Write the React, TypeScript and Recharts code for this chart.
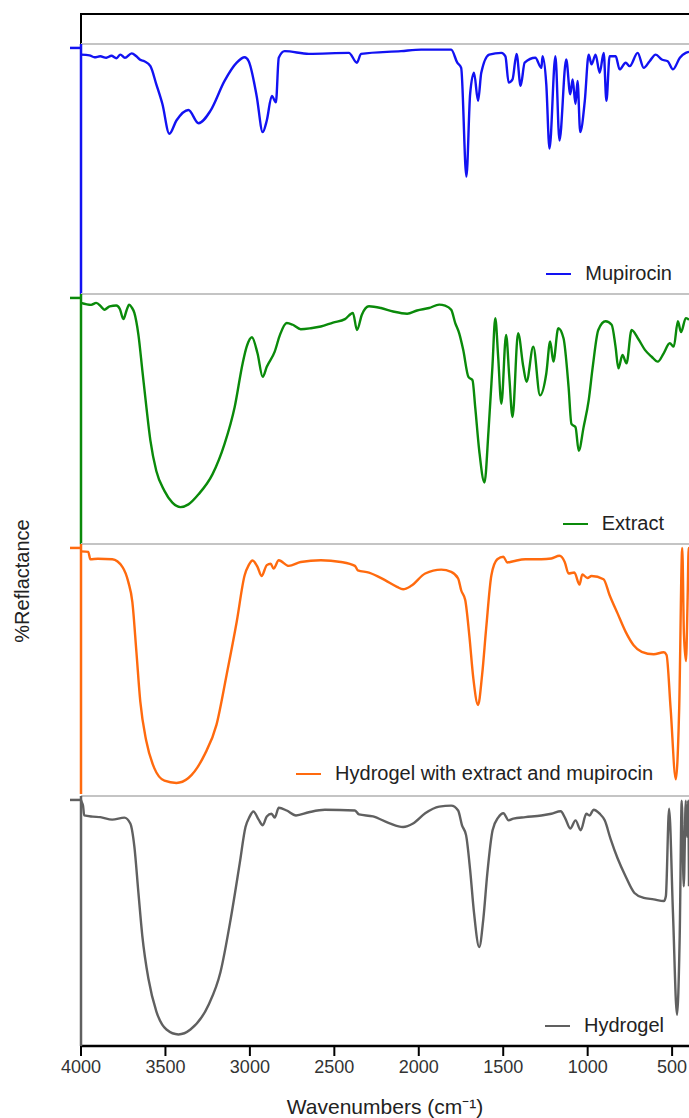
import { LineChart, Line, XAxis, YAxis, ReferenceLine, Legend } from "recharts";

// wavenumbers (cm-1) and %R, each panel scaled 0..100
const mupirocinWn = [
  4000, 3950, 3920, 3886, 3850, 3820, 3790, 3767, 3740, 3700, 3672, 3650, 3625, 3589, 3554, 3518, 3477, 3435,
  3364, 3304, 3233, 3150, 3078, 3031, 3007, 2960, 2924, 2900, 2870, 2846, 2829, 2794, 2651, 2414, 2366, 2342,
  2105, 1986, 1808, 1772, 1749, 1718, 1696, 1673, 1649, 1630, 1583, 1511, 1487, 1468, 1445, 1421, 1397, 1373,
  1310, 1274, 1267, 1245, 1226, 1191, 1167, 1127, 1103, 1089, 1072, 1060, 1044, 1017, 994, 977, 953, 929, 905,
  889, 870, 834, 811, 775, 751, 704, 668, 633, 597, 561, 526, 495, 454, 419, 400,
];
const mupirocinR = [
  97.3, 97.0, 96.2, 96.6, 96.0, 96.8, 95.8, 97.3, 96.0, 97.8, 96.6, 95.2, 94.6, 92.6, 85.2, 77.2, 65.1, 70.5,
  74.8, 69.4, 74.5, 86.6, 94.0, 96.2, 94.6, 80.5, 65.8, 70.5, 80.5, 77.9, 96.0, 98.7, 97.6, 98.0, 94.0, 97.6,
  98.7, 99.3, 99.3, 94.0, 91.9, 47.7, 81.2, 89.9, 78.5, 89.9, 97.3, 98.0, 96.6, 85.9, 87.2, 97.6, 84.6, 94.0,
  96.0, 91.9, 96.6, 85.2, 59.1, 96.6, 62.4, 95.3, 81.2, 87.2, 77.2, 86.6, 65.8, 78.5, 97.3, 93.3, 97.3, 89.9, 98.0,
  78.5, 96.6, 96.6, 91.3, 94.0, 92.6, 98.0, 91.9, 94.6, 97.3, 95.3, 94.6, 91.3, 96.0, 98.0, 98.4,
];

const extractWn = [
  4000, 3940, 3910, 3880, 3862, 3830, 3791, 3770, 3749, 3730, 3715, 3700, 3684, 3660, 3637, 3613, 3589, 3554,
  3506, 3459, 3411, 3364, 3304, 3221, 3150, 3090, 3043, 3019, 2988, 2955, 2924, 2900, 2853, 2822, 2782, 2746,
  2699, 2639, 2580, 2508, 2437, 2390, 2366, 2337, 2295, 2224, 2152, 2069, 2010, 1939, 1879, 1844, 1808, 1784,
  1761, 1737, 1706, 1682, 1666, 1642, 1611, 1587, 1564, 1547, 1530, 1511, 1483, 1464, 1445, 1412, 1381, 1362,
  1322, 1282, 1245, 1222, 1203, 1174, 1143, 1113, 1096, 1072, 1053, 1024, 994, 970, 937, 894, 858, 835, 818,
  794, 770, 740, 699, 661, 621, 585, 550, 514, 490, 466, 447, 419, 400,
];
const extractR = [
  98.0, 97.2, 98.0, 96.4, 95.2, 96.6, 96.9, 95.5, 91.4, 95.0, 97.3, 96.2, 93.9, 85.0, 70.7, 55.7, 42.0, 29.7,
  21.6, 16.8, 15.0, 16.1, 20.2, 28.4, 40.7, 55.7, 73.4, 80.2, 84.0, 77.5, 67.9, 72.0, 78.2, 85.0, 89.8, 89.1,
  87.3, 87.7, 88.4, 90.0, 91.4, 93.9, 87.0, 93.2, 96.6, 95.9, 94.5, 93.6, 94.9, 95.9, 97.3, 96.9, 95.2, 89.8,
  85.7, 78.9, 67.9, 66.6, 55.7, 37.9, 25.0, 46.1, 72.0, 91.8, 76.1, 57.0, 85.0, 67.9, 51.6, 85.7, 72.0, 65.9,
  80.2, 60.4, 69.3, 82.3, 74.1, 87.7, 83.6, 63.8, 48.8, 47.5, 37.9, 47.5, 58.4, 72.0, 87.0, 90.5, 89.1, 80.2, 71.4,
  76.8, 73.4, 87.0, 83.2, 78.9, 76.1, 74.1, 77.5, 81.6, 80.2, 90.5, 86.1, 91.8, 91.1,
];

const gelMixWn = [
  4000, 3957, 3945, 3900, 3815, 3755, 3720, 3696, 3672, 3649, 3613, 3566, 3506, 3435, 3364, 3269, 3198, 3138,
  3078, 3031, 3007, 2984, 2955, 2931, 2900, 2877, 2860, 2829, 2770, 2699, 2580, 2461, 2378, 2361, 2295, 2200,
  2129, 2093, 2045, 1962, 1867, 1808, 1767, 1749, 1725, 1701, 1677, 1649, 1625, 1601, 1570, 1535, 1499, 1476,
  1440, 1369, 1274, 1215, 1167, 1136, 1113, 1079, 1048, 1032, 1001, 977, 906, 870, 823, 775, 728, 680, 609, 549,
  533, 509, 478, 458, 440, 430, 418, 408, 402, 400,
];
const gelMixR = [
  98.6, 98.4, 95.4, 95.6, 95.4, 92.3, 86.2, 78.1, 57.8, 37.6, 21.4, 10.5, 5.4, 4.5, 6.5, 15.9, 28.1, 48.4,
  70.0, 88.9, 93.0, 94.9, 92.3, 88.6, 93.0, 93.6, 91.6, 95.0, 92.7, 94.3, 95.0, 94.3, 92.7, 90.9, 90.0, 86.9,
  84.2, 83.2, 84.6, 89.6, 91.2, 90.3, 87.6, 82.8, 78.8, 64.6, 47.0, 36.2, 48.4, 67.3, 88.9, 95.4, 96.4, 94.1,
  94.6, 95.4, 95.4, 95.7, 96.8, 94.3, 89.6, 90.0, 85.1, 89.2, 87.8, 88.6, 87.3, 80.8, 73.4, 65.9, 60.5, 57.8, 56.8, 57.6,
  56.5, 34.9, 6.0, 35.0, 100, 65.0, 54.0, 80.0, 100, 95.0,
];

const hydrogelWn = [
  4000, 3995, 3988, 3981, 3930, 3886, 3815, 3743, 3708, 3684, 3660, 3637, 3601, 3554, 3494, 3423, 3352, 3245,
  3174, 3114, 3060, 3026, 3003, 2979, 2948, 2924, 2900, 2872, 2853, 2829, 2782, 2727, 2651, 2556, 2378, 2354,
  2271, 2176, 2093, 2034, 1962, 1879, 1808, 1767, 1744, 1720, 1696, 1673, 1642, 1618, 1594, 1563, 1530, 1499,
  1468, 1440, 1369, 1274, 1215, 1160, 1132, 1103, 1072, 1041, 1008, 989, 965, 929, 899, 865, 823, 775, 723, 668,
  609, 549, 537, 518, 495, 471, 455, 443, 431, 419, 412, 405, 400,
];
const hydrogelR = [
  100, 99, 97.7, 93.7, 93.2, 93.0, 92.0, 92.8, 90.4, 81.0, 62.2, 44.8, 27.4, 14.1, 6.7, 4.7, 6.7, 16.7,
  30.1, 51.5, 74.3, 89.0, 93.0, 95.3, 92.0, 89.7, 93.3, 94.4, 92.8, 96.8, 95.7, 93.7, 95.0, 96.0, 95.7, 94.1,
  93.3, 90.6, 89.0, 90.4, 94.6, 97.3, 97.7, 95.7, 89.7, 85.7, 71.6, 54.2, 40.2, 51.5, 70.3, 87.7, 92.8, 94.6,
  91.7, 92.4, 93.0, 93.7, 94.4, 95.4, 92.4, 88.4, 91.7, 87.7, 94.4, 93.7, 96.0, 94.4, 91.7, 84.3, 76.3, 68.9, 62.2, 60.2,
  59.6, 58.9, 60.9, 96.4, 54.2, 12.7, 44.8, 99.7, 64.9, 99.7, 85.0, 99.7, 64.9,
];

const xTicks = [4000, 3500, 3000, 2500, 2000, 1500, 1000, 500];

const toRows = (wn: number[], r: number[]) => wn.map((w, i) => ({ wn: w, r: r[i] }));

const FONT = '"Liberation Sans", Arial, sans-serif';
const W = 689;
const PLOT_H = 250;
const YTOP = 101.6;
const AXIS_H = 72;

const panels = [
  { name: "Mupirocin", color: "#1212f2", rows: toRows(mupirocinWn, mupirocinR), top: 44, legendRight: 17 },
  { name: "Extract", color: "#0a8a0a", rows: toRows(extractWn, extractR), top: 294, legendRight: 25 },
  {
    name: "Hydrogel with extract and mupirocin",
    color: "#ff6a0e",
    rows: toRows(gelMixWn, gelMixR),
    top: 544,
    legendRight: 36,
  },
  { name: "Hydrogel", color: "#606060", rows: toRows(hydrogelWn, hydrogelR), top: 796, legendRight: 25 },
];

const renderLegend = (props: any) => {
  const item = props.payload && props.payload[0];
  if (!item) return null;
  return (
    <div style={{ display: "flex", alignItems: "center", whiteSpace: "nowrap", fontFamily: FONT }}>
      <span style={{ display: "inline-block", width: 25, borderTop: `2.5px solid ${item.color}`, marginRight: 14 }} />
      <span style={{ fontSize: 20, color: "#222" }}>{item.value}</span>
    </div>
  );
};

function SpectrumPanel({ panel, last }: { panel: (typeof panels)[number]; last: boolean }) {
  const axisH = last ? AXIS_H : 0;
  return (
    <div style={{ position: "absolute", left: 0, top: panel.top - 2 }}>
      <LineChart
        width={W}
        height={PLOT_H + 2 + axisH}
        data={panel.rows}
        margin={{ top: 2, right: 0, bottom: 0, left: 68 }}
      >
        <XAxis
          dataKey="wn"
          type="number"
          domain={[400, 4000]}
          reversed
          ticks={xTicks}
          hide={!last}
          height={AXIS_H}
          tickSize={10}
          tickMargin={4}
          axisLine={{ stroke: "#000", strokeWidth: 2.5 }}
          tickLine={{ stroke: "#000", strokeWidth: 2 }}
          tick={{ fontSize: 18, fill: "#333", fontFamily: FONT }}
          label={{
            value: "Wavenumbers (cm⁻¹)",
            position: "insideBottom",
            offset: 4,
            style: { fontSize: 21, fill: "#222", fontFamily: FONT },
          }}
        />
        <YAxis
          domain={[0, YTOP]}
          ticks={[100]}
          width={13}
          tickSize={11}
          tickFormatter={() => ""}
          axisLine={{ stroke: panel.color, strokeWidth: 2.5 }}
          tickLine={{ stroke: panel.color, strokeWidth: 2.5 }}
        />
        <ReferenceLine y={YTOP} stroke="#c4c4c4" strokeWidth={2} />
        <Line
          type="monotone"
          dataKey="r"
          name={panel.name}
          stroke={panel.color}
          strokeWidth={2.4}
          dot={false}
          isAnimationActive={false}
        />
        <Legend
          layout="horizontal"
          align="center"
          verticalAlign="middle"
          content={renderLegend}
          wrapperStyle={{ right: panel.legendRight, bottom: axisH + 9, left: "auto", top: "auto", width: "auto" }}
        />
      </LineChart>
    </div>
  );
}

export default function App() {
  return (
    <div
      style={{
        position: "absolute",
        left: 0,
        top: 0,
        width: W,
        height: 1118,
        background: "#fff",
        fontFamily: FONT,
        overflow: "hidden",
      }}
    >
      {/* black frame piece above the first panel */}
      <div
        style={{
          position: "absolute",
          left: 80,
          top: 13,
          width: W - 80,
          height: 32,
          borderTop: "2.5px solid #000",
          borderLeft: "2.5px solid #000",
          boxSizing: "border-box",
        }}
      />
      {panels.map((p, i) => (
        <SpectrumPanel key={p.name} panel={p} last={i === panels.length - 1} />
      ))}
      <div
        style={{
          position: "absolute",
          left: 22,
          top: 581,
          transform: "translate(-50%, -50%) rotate(-90deg)",
          whiteSpace: "nowrap",
          fontSize: 20,
          color: "#222",
        }}
      >
        %Reflactance
      </div>
    </div>
  );
}
